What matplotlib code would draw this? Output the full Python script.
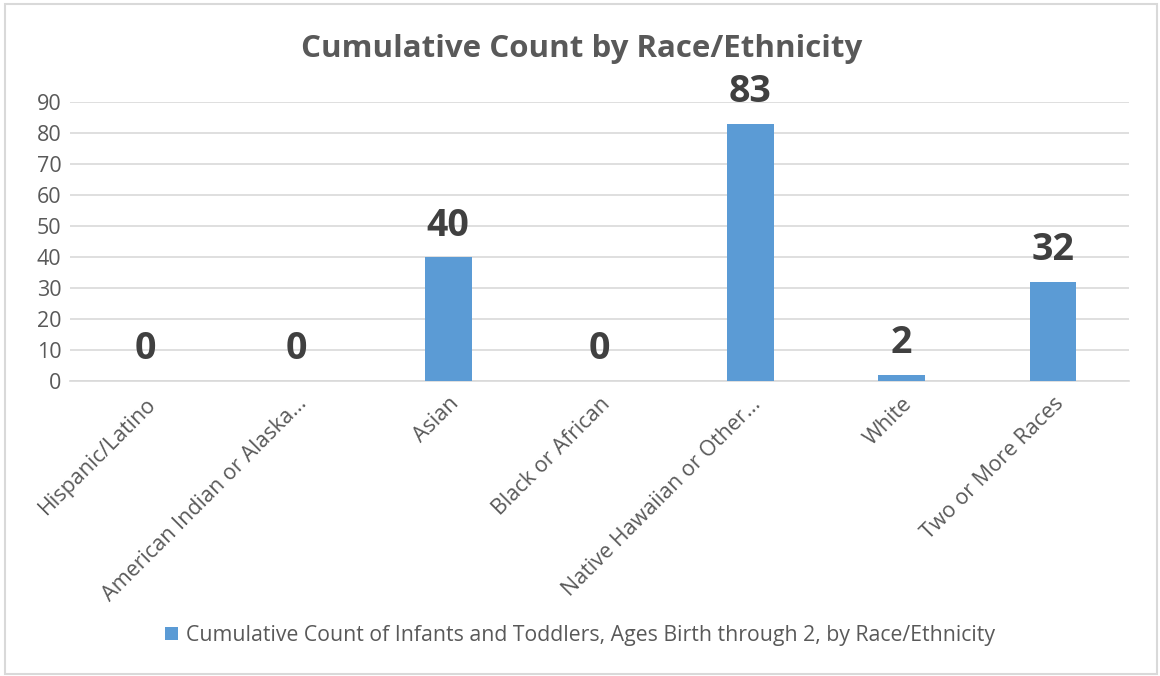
import matplotlib.pyplot as plt
from matplotlib.patches import Rectangle

# chart data
categories = ['Hispanic/Latino', 'American Indian or Alaska...', 'Asian', 'Black or African',
              'Native Hawaiian or Other...', 'White', 'Two or More Races']
counts = [0, 0, 40, 0, 83, 2, 32]
series_name = 'Cumulative Count of Infants and Toddlers, Ages Birth through 2, by Race/Ethnicity'
title = 'Cumulative Count by Race/Ethnicity'

plt.rcParams['font.family'] = ['Open Sans', 'DejaVu Sans']

fig = plt.figure(figsize=(11.6, 6.76), dpi=100)
ax = fig.add_axes([0.0603, 0.4364, 0.9127, 0.4126])

x = list(range(len(categories)))
ax.bar(x, counts, width=0.31, color='#5B9BD5', zorder=3, label=series_name)

for xi, v in zip(x, counts):
    ax.annotate(str(v), (xi, v), xytext=(0, 9), textcoords='offset points',
                ha='center', va='bottom', fontsize=27, fontweight='bold', color='#404040')

ax.set_xlim(-0.5, len(categories) - 0.5)
ax.set_ylim(0, 90)
ax.set_yticks(range(0, 91, 10))
ax.grid(axis='y', color='#D9D9D9', linewidth=1.2, zorder=0)
ax.set_xticks(x)
ax.set_xticklabels(categories, rotation=45, ha='right', rotation_mode='anchor')
ax.tick_params(axis='x', length=0, pad=9, labelsize=15.5, labelcolor='#595959')
ax.tick_params(axis='y', length=0, pad=6, labelsize=15.5, labelcolor='#595959')
for s in ax.spines.values():
    s.set_visible(False)
ax.spines['bottom'].set_visible(True)
ax.spines['bottom'].set_color('#D9D9D9')
ax.spines['bottom'].set_linewidth(1.2)

fig.text(0.501, 0.928, title, ha='center', va='center', fontsize=22.5,
         fontweight='bold', color='#595959')

fig.legend(loc='center', bbox_to_anchor=(0.5, 0.06), frameon=False, fontsize=15.3,
           labelcolor='#595959', handlelength=0.6, handleheight=0.6, handletextpad=0.4)

fig.patches.append(Rectangle((5 / 1160, 2 / 676), 1152 / 1160, 670 / 676, transform=fig.transFigure,
                             fill=False, edgecolor='#D9D9D9', linewidth=1.5))

fig.savefig('out.png', dpi=100)
